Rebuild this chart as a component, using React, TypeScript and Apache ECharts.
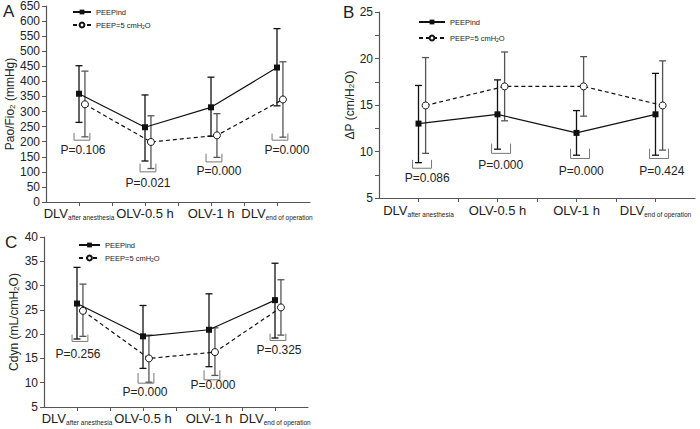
import React, { useEffect, useRef } from 'react';
import * as echarts from 'echarts';

const FONT = '"Liberation Sans", Arial, Helvetica, sans-serif';

// categories
const catMain = ['DLV', 'OLV-0.5 h', 'OLV-1 h', 'DLV'];
const catSub = ['after anesthesia', '', '', 'end of operation'];
const catIdx = [0, 1, 2, 3];
const seriesNames = ['PEEPind', 'PEEP=5 cmH2O'];

// Panel A: PaO2/FiO2
const aInd = [359, 248, 314, 446];
const aIndErr = [[264, 452], [136, 355], [218, 414], [319, 575]];
const a5 = [324, 199, 221, 340];
const a5Err = [[216, 434], [111, 286], [148, 293], [215, 465]];
const aBracket = [[229, 205], [127, 100], [160, 133], [227, 205]];
const aP = ['P=0.106', 'P=0.021', 'P=0.000', 'P=0.000'];
const aPY = [172, 63, 103, 172];
const aPX = [0.06, 0.045, 0.12, 0.15];

// Panel B: delta P
const bInd = [13.0, 14.0, 12.0, 14.0];
const bIndErr = [[8.8, 17.1], [10.25, 17.7], [9.6, 14.4], [9.6, 18.4]];
const b5 = [14.95, 17.0, 17.0, 14.95];
const b5Err = [[9.8, 20.1], [13.3, 20.7], [13.8, 20.2], [10.15, 19.75]];
const bBracket = [[9.1, 8.2], [10.85, 9.8], [10.3, 9.25], [10.3, 9.25]];
const bP = ['P=0.086', 'P=0.000', 'P=0.000', 'P=0.424'];
const bPY = [7.1, 8.6, 7.9, 7.9];
const bPX = [0.11, 0.04, 0.06, 0.08];

// Panel C: Cdyn
const cInd = [26.3, 19.55, 20.9, 27.0];
const cIndErr = [[19.0, 33.75], [12.95, 25.9], [13.3, 28.3], [19.2, 34.6]];
const c5 = [24.8, 15.0, 16.3, 25.5];
const c5Err = [[19.55, 30.3], [10.1, 19.8], [11.5, 21.3], [19.8, 31.2]];
const cBracket = [[19.9, 18.5], [12.0, 9.9], [12.55, 10.6], [20.1, 18.7]];
const cP = ['P=0.256', 'P=0.000', 'P=0.000', 'P=0.325'];
const cPY = [15.9, 8.0, 9.5, 16.7];
const cPX = [0.015, 0.03, 0.06, 0.06];

const OFF = 0.09;
const AXIS_COLOR = '#555';
const TEXT_COLOR = '#222';

function errorBarRender(color: string) {
  return (params: any, api: any) => {
    const x = api.value(0);
    const lo = api.value(1);
    const hi = api.value(2);
    const t = api.coord([x, hi]);
    const b = api.coord([x, lo]);
    const hw = 3.5;
    const style = { stroke: color, lineWidth: 1.3 };
    return {
      type: 'group',
      children: [
        { type: 'line', shape: { x1: t[0], y1: t[1], x2: b[0], y2: b[1] }, style },
        { type: 'line', shape: { x1: t[0] - hw, y1: t[1], x2: t[0] + hw, y2: t[1] }, style },
        { type: 'line', shape: { x1: b[0] - hw, y1: b[1], x2: b[0] + hw, y2: b[1] }, style },
      ],
    };
  };
}

function bracketRender(params: any, api: any) {
  const x = api.value(0);
  const t = api.value(1);
  const b = api.value(2);
  const p1 = api.coord([x - 0.075, t]);
  const p2 = api.coord([x - 0.075, b]);
  const p3 = api.coord([x + 0.165, b]);
  const p4 = api.coord([x + 0.165, t]);
  return {
    type: 'polyline',
    shape: { points: [p1, p2, p3, p4] },
    style: { stroke: '#777', lineWidth: 1, fill: 'none' },
  };
}

function pLabelRender(labels: string[]) {
  return (params: any, api: any) => {
    const p = api.coord([api.value(0), api.value(1)]);
    return {
      type: 'text',
      x: p[0],
      y: p[1],
      style: {
        text: labels[params.dataIndex],
        fill: TEXT_COLOR,
        fontSize: 12,
        fontFamily: FONT,
        align: 'center',
        verticalAlign: 'middle',
      },
    };
  };
}

interface PanelCfg {
  grid: { left: number; top: number; width: number; height: number };
  yMin: number;
  yMax: number;
  yInterval: number;
  yLabelStep: number;
  yName: string;
  yNameGap: number;
  ind: number[];
  indErr: number[][];
  p5: number[];
  p5Err: number[][];
  bracket: number[][];
  pLabels: string[];
  pY: number[];
  pX: number[];
  labelMargin: number;
  legend: { left: number; top: number; itemWidth: number; itemGap: number };
}

const nameRich = {
  sub: { fontSize: 8, fontFamily: FONT, color: TEXT_COLOR, verticalAlign: 'bottom' },
};

function buildPanel(i: number, c: PanelCfg) {
  const grid = { ...c.grid, containLabel: false };
  const xAxis = {
    type: 'value',
    gridIndex: i,
    min: -0.5,
    max: 3.5,
    interval: 0.5,
    axisLine: { show: true, onZero: false, lineStyle: { color: AXIS_COLOR, width: 1.2 } },
    axisTick: { show: true, length: 4, lineStyle: { color: AXIS_COLOR } },
    splitLine: { show: false },
    axisLabel: {
      margin: c.labelMargin,
      showMinLabel: false,
      showMaxLabel: false,
      color: TEXT_COLOR,
      fontFamily: FONT,
      fontSize: 13,
      formatter: (v: number) => {
        const r = Math.round(v);
        if (Math.abs(v - r) > 1e-6 || r < 0 || r > 3) return '';
        return catSub[r] ? `{m|${catMain[r]}}{s|${catSub[r]}}` : `{m|${catMain[r]}}`;
      },
      rich: {
        m: { fontSize: 13, fontFamily: FONT, color: TEXT_COLOR, lineHeight: 15 },
        s: { fontSize: 6.5, fontFamily: FONT, color: TEXT_COLOR, verticalAlign: 'bottom', lineHeight: 8 },
      },
    },
  };
  const yAxis = {
    type: 'value',
    gridIndex: i,
    min: c.yMin,
    max: c.yMax,
    interval: c.yInterval,
    name: c.yName,
    nameLocation: 'middle',
    nameGap: c.yNameGap,
    nameTextStyle: { fontSize: 12, fontFamily: FONT, color: TEXT_COLOR, rich: nameRich },
    axisLine: { show: true, onZero: false, lineStyle: { color: AXIS_COLOR, width: 1.2 } },
    axisTick: { show: true, length: 4, lineStyle: { color: AXIS_COLOR } },
    splitLine: { show: false },
    axisLabel: {
      margin: 6,
      color: TEXT_COLOR,
      fontFamily: FONT,
      fontSize: 12,
      formatter: (v: number) => {
        const k = Math.round(v / c.yLabelStep);
        return Math.abs(v - k * c.yLabelStep) < 1e-6 ? String(v) : '';
      },
    },
  };
  const series: any[] = [
    {
      type: 'custom',
      xAxisIndex: i,
      yAxisIndex: i,
      renderItem: errorBarRender('#111'),
      data: catIdx.map((k) => [k, c.indErr[k][0], c.indErr[k][1]]),
      z: 2,
      silent: true,
    },
    {
      type: 'custom',
      xAxisIndex: i,
      yAxisIndex: i,
      renderItem: errorBarRender('#555'),
      data: catIdx.map((k) => [k + OFF, c.p5Err[k][0], c.p5Err[k][1]]),
      z: 2,
      silent: true,
    },
    {
      type: 'custom',
      xAxisIndex: i,
      yAxisIndex: i,
      renderItem: bracketRender,
      data: catIdx.map((k) => [k, c.bracket[k][0], c.bracket[k][1]]),
      z: 2,
      silent: true,
    },
    {
      type: 'custom',
      xAxisIndex: i,
      yAxisIndex: i,
      renderItem: pLabelRender(c.pLabels),
      data: catIdx.map((k) => [k + c.pX[k], c.pY[k]]),
      z: 2,
      silent: true,
    },
    {
      type: 'line',
      name: seriesNames[0],
      xAxisIndex: i,
      yAxisIndex: i,
      data: catIdx.map((k) => [k, c.ind[k]]),
      symbol: 'rect',
      symbolSize: 6,
      itemStyle: { color: '#111' },
      lineStyle: { color: '#111', width: 1.2 },
      z: 5,
      silent: true,
    },
    {
      type: 'line',
      name: seriesNames[1],
      xAxisIndex: i,
      yAxisIndex: i,
      data: catIdx.map((k) => [k + OFF, c.p5[k]]),
      symbol: 'circle',
      symbolSize: 7,
      showAllSymbol: true,
      itemStyle: { color: '#fff', borderColor: '#111', borderWidth: 1 },
      lineStyle: { color: '#111', width: 1.2, type: [4, 3] },
      z: 5,
      silent: true,
    },
  ];
  const legend = {
    orient: 'vertical',
    left: c.legend.left,
    top: c.legend.top,
    itemWidth: c.legend.itemWidth,
    itemHeight: 6,
    itemGap: c.legend.itemGap,
    selectedMode: false,
    data: seriesNames,
    formatter: (n: string) => (n === seriesNames[0] ? n : 'PEEP=5 cmH{s|2}O'),
    textStyle: {
      fontSize: 7.5,
      fontFamily: FONT,
      color: TEXT_COLOR,
      rich: { s: { fontSize: 5, fontFamily: FONT, color: TEXT_COLOR, verticalAlign: 'bottom' } },
    },
  };
  return { grid, xAxis, yAxis, series, legend };
}

const panels: PanelCfg[] = [
  {
    grid: { left: 46, top: 6, width: 264, height: 196 },
    yMin: 0, yMax: 650, yInterval: 50, yLabelStep: 50,
    yName: 'Pao/Fio{sub|2} (mmHg)', yNameGap: 30,
    ind: aInd, indErr: aIndErr, p5: a5, p5Err: a5Err, bracket: aBracket,
    pLabels: aP, pY: aPY, pX: aPX, labelMargin: 4,
    legend: { left: 67, top: 3, itemWidth: 18, itemGap: 5 },
  },
  {
    grid: { left: 379, top: 12, width: 316, height: 186 },
    yMin: 5, yMax: 25, yInterval: 2.5, yLabelStep: 5,
    yName: 'ΔP (cm/H{sub|2}O)', yNameGap: 22,
    ind: bInd, indErr: bIndErr, p5: b5, p5Err: b5Err, bracket: bBracket,
    pLabels: bP, pY: bPY, pX: bPX, labelMargin: 5,
    legend: { left: 413, top: 13, itemWidth: 26, itemGap: 8 },
  },
  {
    grid: { left: 44, top: 237, width: 264, height: 170 },
    yMin: 5, yMax: 40, yInterval: 5, yLabelStep: 5,
    yName: 'Cdyn (mL/cmH{sub|2}O)', yNameGap: 24,
    ind: cInd, indErr: cIndErr, p5: c5, p5Err: c5Err, bracket: cBracket,
    pLabels: cP, pY: cPY, pX: cPX, labelMargin: 4,
    legend: { left: 73, top: 236, itemWidth: 21, itemGap: 5 },
  },
];

export default function App() {
  const ref = useRef<HTMLDivElement>(null);
  useEffect(() => {
    if (!ref.current) return;
    const chart = echarts.init(ref.current, undefined, { renderer: 'svg' });
    const built = panels.map((p, i) => buildPanel(i, p));
    const letter = (t: string, x: number, y: number) => ({
      type: 'text',
      left: x,
      top: y,
      style: { text: t, fontSize: 17, fontFamily: FONT, fill: TEXT_COLOR },
    });
    chart.setOption({
      animation: false,
      backgroundColor: '#fff',
      grid: built.map((b) => b.grid),
      xAxis: built.map((b) => b.xAxis),
      yAxis: built.map((b) => b.yAxis),
      legend: built.map((b) => b.legend),
      series: built.flatMap((b) => b.series),
      graphic: [letter('A', 3, 3), letter('B', 343, 4), letter('C', 5, 234)],
    });
    return () => chart.dispose();
  }, []);
  return (
    <div
      ref={ref}
      style={{ position: 'absolute', left: 0, top: 0, width: 700, height: 429 }}
    />
  );
}
